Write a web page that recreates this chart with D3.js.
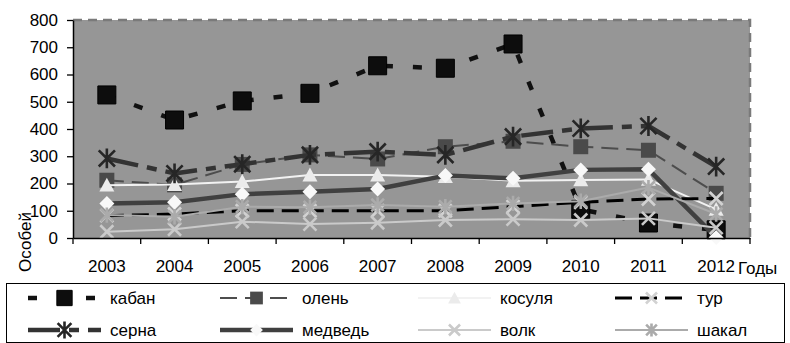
<!DOCTYPE html>
<html>
<head>
<meta charset="utf-8">
<script src="https://cdn.jsdelivr.net/npm/d3@7"></script>
<style>
  html, body { margin: 0; padding: 0; background: #fff; }
  svg { display: block; font-family: "Liberation Sans", Arial, sans-serif; }
</style>
</head>
<body>
<svg id="chart" width="790" height="343"></svg>
<script>
// Years on the category axis
const years = ["2003","2004","2005","2006","2007","2008","2009","2010","2011","2012"];
const yTicks = [0,100,200,300,400,500,600,700,800];

// Population counts per species
const kaban   = [525, 433, 503, 531, 632, 623, 712, 105, 55, 30];
const olen    = [212, 195, 270, 305, 290, 335, 355, 335, 322, 164];
const kosulya = [194, 196, 207, 231, 231, 225, 210, 213, 215, 105];
const tur     = [82, 88, 100, 100, 100, 100, 115, 131, 143, 145];
const serna   = [292, 237, 271, 305, 317, 305, 372, 402, 411, 262];
const medved  = [127, 131, 161, 170, 180, 229, 219, 250, 252, 2];
const volk    = [23, 32, 60, 51, 56, 66, 69, 66, 72, 38];
const shakal  = [84, 78, 115, 113, 121, 115, 127, 135, 185, 88];

const seriesNames = ["кабан","олень","косуля","тур","серна","медведь","волк","шакал"];

const series = [
  {name: seriesNames[0], values: kaban,   line: "#111", lw: 4.5, dash: "9,20",      marker: "square",  size: 9,   fill: "#0d0d0d", mstroke: "#000"},
  {name: seriesNames[1], values: olen,    line: "#4d4d4d", lw: 2, dash: "17,8",     marker: "square",  size: 7.5, fill: "#4a4a4a", mstroke: "none"},
  {name: seriesNames[2], values: kosulya, line: "#f2f2f2", lw: 2, dash: null,       marker: "triangle",size: 7.5, fill: "#ebebeb", mstroke: "none"},
  {name: seriesNames[3], values: tur,     line: "#000", lw: 3, dash: "17,8",        marker: "x",       size: 6.5, fill: "none",    mstroke: "#d2d2d2"},
  {name: seriesNames[4], values: serna,   line: "#333", lw: 4.5, dash: "32,9,10,9", marker: "star",    size: 9,   fill: "none",    mstroke: "#262626"},
  {name: seriesNames[5], values: medved,  line: "#404040", lw: 4.5, dash: null,     marker: "diamond", size: 7.5, fill: "#f8f8f8", mstroke: "none"},
  {name: seriesNames[6], values: volk,    line: "#cacaca", lw: 2, dash: null,       marker: "x",       size: 6.5, fill: "none",    mstroke: "#cacaca"},
  {name: seriesNames[7], values: shakal,  line: "#ababab", lw: 2, dash: null,       marker: "star",    size: 7,   fill: "none",    mstroke: "#ababab"}
];

const svg = d3.select("#chart");
const plot = {left: 73, right: 750, top: 20, bottom: 238};

const x = d3.scaleBand().domain(years).range([plot.left, plot.right]).padding(0);
const y = d3.scaleLinear().domain([0, 800]).range([plot.bottom, plot.top]);
const cx = d => x(d) + x.bandwidth() / 2;

// Plot area
svg.append("rect")
  .attr("x", plot.left).attr("y", plot.top)
  .attr("width", plot.right - plot.left).attr("height", plot.bottom - plot.top)
  .attr("fill", "#969696");
svg.append("path")
  .attr("d", `M${plot.left},${plot.top}H${plot.right}V${plot.bottom}`)
  .attr("fill", "none").attr("stroke", "#7a7a7a").attr("stroke-width", 2.5)
  .attr("stroke-dasharray", "9,6");

function markerPath(type, s) {
  switch (type) {
    case "square":   return `M${-s},${-s}H${s}V${s}H${-s}Z`;
    case "triangle": return `M0,${-s}L${s},${s * 0.85}L${-s},${s * 0.85}Z`;
    case "diamond":  return `M0,${-s}L${s},0L0,${s}L${-s},0Z`;
    case "x":        return `M${-s},${-s}L${s},${s}M${-s},${s}L${s},${-s}`;
    case "star":     return `M${-s * 0.9},${-s * 0.9}L${s * 0.9},${s * 0.9}M${-s * 0.9},${s * 0.9}L${s * 0.9},${-s * 0.9}M0,${-s * 1.1}L0,${s * 1.1}`;
  }
}
function drawMarker(g, type, s, fill, stroke) {
  const filled = (type === "square" || type === "triangle" || type === "diamond");
  return g.append("path")
    .attr("d", markerPath(type, s))
    .attr("fill", filled ? fill : "none")
    .attr("stroke", stroke)
    .attr("stroke-width", filled ? (stroke === "none" ? 0 : 1) : 2.6)
    .attr("stroke-linecap", "butt");
}

const line = d3.line().x((d, i) => cx(years[i])).y(d => y(d));

// Series: line then markers, in order
series.forEach(s => {
  const g = svg.append("g");
  g.append("path")
    .attr("d", line(s.values))
    .attr("fill", "none")
    .attr("stroke", s.line)
    .attr("stroke-width", s.lw)
    .attr("stroke-dasharray", s.dash)
    .attr("stroke-linejoin", "round");
  s.values.forEach((v, i) => {
    drawMarker(g, s.marker, s.size, s.fill, s.mstroke)
      .attr("transform", `translate(${cx(years[i])},${y(v)})`);
  });
});

// Y axis
const yAxis = svg.append("g")
  .attr("transform", `translate(${plot.left},0)`)
  .call(d3.axisLeft(y).tickValues(yTicks).tickSize(6).tickPadding(9).tickSizeOuter(0));
yAxis.select(".domain").attr("stroke", "#000").attr("stroke-width", 1.5);
yAxis.selectAll(".tick line").attr("stroke", "#000").attr("stroke-width", 1.3);
yAxis.selectAll("text").attr("font-size", 17).attr("fill", "#000")
  .attr("font-family", "Liberation Sans, Arial, sans-serif");

// X axis: labels at category centres, ticks on the category boundaries
const xAxis = svg.append("g")
  .attr("transform", `translate(0,${plot.bottom})`)
  .call(d3.axisBottom(x).tickSize(0).tickPadding(22).tickSizeOuter(0));
xAxis.select(".domain").attr("stroke", "#000").attr("stroke-width", 1.5);
xAxis.selectAll("text").attr("font-size", 17).attr("fill", "#000")
  .attr("font-family", "Liberation Sans, Arial, sans-serif");
const bounds = years.map(d => x(d)).concat([x.range()[1]]);
xAxis.selectAll("line.bound").data(bounds).enter().append("line")
  .attr("class", "bound")
  .attr("x1", d => d).attr("x2", d => d)
  .attr("y1", 0).attr("y2", 6)
  .attr("stroke", "#000").attr("stroke-width", 1.3);

// Axis titles
svg.append("text")
  .attr("x", 738).attr("y", 274)
  .attr("font-size", 17).text("Годы");
svg.append("text")
  .attr("transform", "translate(31,242) rotate(-90)")
  .attr("text-anchor", "middle")
  .attr("font-size", 17).text("Особей");

// Legend
svg.append("rect")
  .attr("x", 6.5).attr("y", 283.5).attr("width", 778).attr("height", 59)
  .attr("fill", "#fff").attr("stroke", "#000").attr("stroke-width", 1);

const colX = [28, 220, 418, 615];
const rowY = [298, 330];
series.forEach((s, i) => {
  const col = i % 4, row = Math.floor(i / 4);
  const x0 = colX[col], yy = rowY[row], len = 73;
  const g = svg.append("g");
  g.append("line")
    .attr("x1", x0).attr("x2", x0 + len).attr("y1", yy).attr("y2", yy)
    .attr("stroke", s.line).attr("stroke-width", s.lw)
    .attr("stroke-dasharray", s.dash);
  drawMarker(g, s.marker, s.size * 0.85, s.fill, s.mstroke)
    .attr("transform", `translate(${x0 + len / 2},${yy})`);
  g.append("text")
    .attr("x", x0 + len + 9).attr("y", yy + 6)
    .attr("font-size", 17).text(s.name);
});
</script>
</body>
</html>
